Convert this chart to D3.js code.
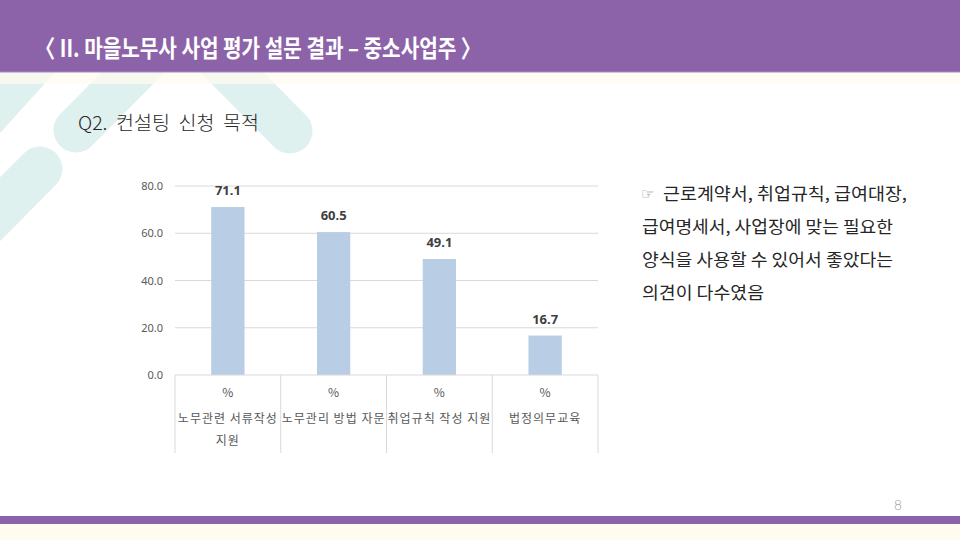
<!DOCTYPE html>
<html><head><meta charset="utf-8">
<script src="https://cdn.jsdelivr.net/npm/d3@7"></script>
<style>
html,body{margin:0;padding:0;background:#fff;}
svg{display:block;font-family:"Noto Sans CJK KR","Noto Sans",sans-serif;}
.pre{white-space:pre;}
</style></head>
<body>
<svg id="c" width="960" height="540"></svg>
<script>
// ---- data ----
const categories = ["노무관련 서류작성 지원", "노무관리 방법 자문", "취업규칙 작성 지원", "법정의무교육"];
const categoryLines = [["%", "노무관련 서류작성", "지원"], ["%", "노무관리 방법 자문"], ["%", "취업규칙 작성 지원"], ["%", "법정의무교육"]];
const values = [71.1, 60.5, 49.1, 16.7];
const yTicks = [0, 20, 40, 60, 80];
const titleText = "〈 II. 마을노무사 사업 평가 설문 결과 – 중소사업주 〉";
const subtitleText = "Q2.  컨설팅  신청  목적";
const noteLines = ["근로계약서, 취업규칙, 급여대장,", "급여명세서, 사업장에 맞는 필요한", "양식을 사용할 수 있어서 좋았다는", "의견이 다수였음"];
const pageNumber = "8";

(function () {
const svg = d3.select("#c");

// background decoration (teal rounded bands)
const deco = svg.append("g").attr("stroke", "#DEF1EE").attr("stroke-linecap", "round").attr("stroke-width", 45).attr("fill", "none");
deco.append("line").attr("x1", 195).attr("y1", 10).attr("x2", 76).attr("y2", 130);
deco.append("line").attr("x1", 170).attr("y1", 10).attr("x2", 290).attr("y2", 131);
deco.append("line").attr("x1", 40).attr("y1", 169).attr("x2", -90).attr("y2", 300);
svg.append("polygon").attr("points", "0,60 66,60 0,133").attr("fill", "#DEF1EE");

// header
svg.append("rect").attr("x", 0).attr("y", 72).attr("width", 960).attr("height", 12).attr("fill", "#FFFBF0").attr("opacity", 0.75);
svg.append("rect").attr("x", 0).attr("y", 0).attr("width", 960).attr("height", 72).attr("fill", "#8C63A9");
svg.append("line").attr("x1", 0).attr("x2", 960).attr("y1", 72).attr("y2", 72).attr("stroke", "#A888BE").attr("stroke-width", 1);
svg.append("text").attr("x", 35).attr("y", 57).attr("fill", "#fff").attr("font-size", 24).attr("font-weight", 700)
  .attr("textLength", 446).attr("lengthAdjust", "spacingAndGlyphs").text(titleText);

// subtitle
svg.append("text").attr("class", "pre").attr("x", 78).attr("y", 130).attr("fill", "#262626").attr("font-size", 19).attr("font-weight", 300)
  .attr("textLength", 181).attr("lengthAdjust", "spacingAndGlyphs").text(subtitleText);

// chart
const pLeft = 175, pRight = 598, pTop = 186, pBottom = 375;
const x = d3.scaleBand().domain(categories).range([pLeft, pRight]).padding(0);
const y = d3.scaleLinear().domain([0, 80]).range([pBottom, pTop]);
const barW = x.bandwidth() * 0.315;

const g = svg.append("g");
g.selectAll("line.grid").data(yTicks.filter(t => t > 0)).join("line")
  .attr("x1", pLeft).attr("x2", pRight).attr("y1", d => y(d)).attr("y2", d => y(d))
  .attr("stroke", "#D9D9D9").attr("stroke-width", 1);
g.selectAll("text.yt").data(yTicks).join("text")
  .attr("x", 163).attr("y", d => y(d) + 4).attr("text-anchor", "end")
  .attr("font-size", 11).attr("fill", "#595959").attr("font-family", "'Noto Sans', sans-serif")
  .text(d => d3.format(".1f")(d));
g.selectAll("rect.bar").data(values).join("rect")
  .attr("x", (d, i) => x(categories[i]) + x.bandwidth() / 2 - barW / 2)
  .attr("y", d => y(d)).attr("width", barW).attr("height", d => y(0) - y(d))
  .attr("fill", "#B9CDE5");
g.selectAll("text.dl").data(values).join("text")
  .attr("x", (d, i) => x(categories[i]) + x.bandwidth() / 2)
  .attr("y", d => y(d) - 12).attr("text-anchor", "middle")
  .attr("font-size", 13).attr("font-weight", 700).attr("fill", "#404040").attr("font-family", "'Noto Sans', sans-serif")
  .text(d => d3.format(".1f")(d));
g.append("line").attr("x1", pLeft).attr("x2", pRight).attr("y1", pBottom).attr("y2", pBottom).attr("stroke", "#D9D9D9");
const bounds = categories.map(c => x(c)).concat([pRight]);
g.selectAll("line.div").data(bounds).join("line")
  .attr("x1", d => d).attr("x2", d => d).attr("y1", pBottom).attr("y2", 453)
  .attr("stroke", "#D9D9D9");
categories.forEach((c, i) => {
  const cx = x(c) + x.bandwidth() / 2;
  const ys = [397, 423, 445];
  categoryLines[i].forEach((t, j) => {
    g.append("text").attr("class", "pre").attr("x", cx).attr("y", ys[j]).attr("text-anchor", "middle")
      .attr("font-size", 12).attr("letter-spacing", t.length > 1 ? 1 : 0).attr("fill", "#595959").text(t);
  });
});

// note text
const note = svg.append("g").attr("fill", "#262626").attr("font-size", 17);
const noteY = [200, 233, 266, 299];
note.append("text").attr("x", 641).attr("y", noteY[0] - 1).attr("font-size", 15).attr("fill", "#7F7F7F").attr("font-family", "'DejaVu Sans', sans-serif").text("☞");
noteLines.forEach((t, i) => {
  const tx = i === 0 ? 663 : 642;
  const len = [244, 251, 251, 122][i];
  note.append("text").attr("x", tx).attr("y", noteY[i])
    .attr("textLength", len).attr("lengthAdjust", "spacingAndGlyphs").text(t);
});

// page number & footer
svg.append("text").attr("x", 898).attr("y", 510).attr("text-anchor", "middle").attr("font-size", 14)
  .attr("fill", "#A6A6A6").attr("font-family", "'DejaVu Sans', sans-serif").attr("font-weight", 200).text(pageNumber);
svg.append("rect").attr("x", 0).attr("y", 516).attr("width", 960).attr("height", 8).attr("fill", "#8C63A9");
svg.append("rect").attr("x", 0).attr("y", 524).attr("width", 960).attr("height", 16).attr("fill", "#FFFBF0");
})();
</script>
</body></html>
